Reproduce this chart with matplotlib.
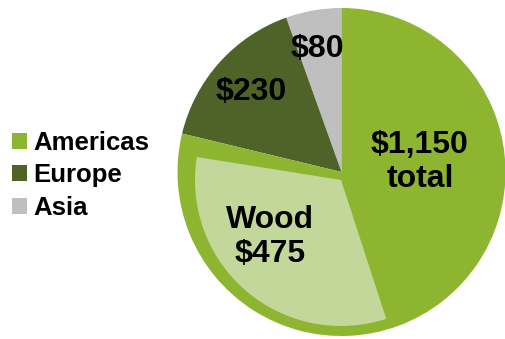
import matplotlib.pyplot as plt
from matplotlib.patches import Wedge

plt.rcParams['font.family'] = ['Liberation Sans', 'DejaVu Sans']
plt.rcParams['font.weight'] = 'bold'

# sales by region ($)
regions = ['Americas', 'Europe', 'Asia']
sales = [1150, 230, 80]
colors = ['#8db52f', '#4f6228', '#bfbfbf']
# part of the Americas total
wood_label = 'Wood'
wood = 475
wood_color = '#c4d79b'

fig = plt.figure(figsize=(5.05, 3.39), dpi=100)
ax = fig.add_axes([0, 0, 1, 1])

center = (341.5, 167)
radius = 164

# draw Asia, Europe, Americas counter-clockwise from 12 o'clock
wedges, _ = ax.pie(sales[::-1], colors=colors[::-1], startangle=90,
                   counterclock=True, center=center, radius=radius,
                   wedgeprops=dict(linewidth=0))
ax.set_xlim(0, 505)
ax.set_ylim(0, 339)
ax.set_aspect('equal')
ax.axis('off')

# wood share drawn as a smaller wedge inside the Americas slice
total = sum(sales)
eu_end = 90 + 360 * (sales[2] + sales[1]) / total
w_start = eu_end + 4.5
w_end = w_start + 360 * wood / total
ax.add_patch(Wedge((341, 159), 146, w_start, w_end, color=wood_color, lw=0))

fs = 23
ax.text(317, 290, '$%d' % sales[2], fontsize=fs, ha='center', va='center')
ax.text(251, 247, '$%d' % sales[1], fontsize=fs, ha='center', va='center')
ax.text(420, 177, '${:,}\ntotal'.format(sales[0]), fontsize=fs,
        ha='center', va='center', linespacing=1.2)
ax.text(270, 102, '%s\n$%d' % (wood_label, wood), fontsize=fs,
        ha='center', va='center', linespacing=1.2)

leg = ax.legend(wedges[::-1], regions, loc='center left',
                bbox_to_anchor=(0.008, 0.483), frameon=False,
                prop=dict(size=18.5, weight='bold'),
                handlelength=0.6, handleheight=0.6, handletextpad=0.25,
                labelspacing=0.33, borderaxespad=0.0, borderpad=0.3)

fig.savefig('out.png', dpi=100)
